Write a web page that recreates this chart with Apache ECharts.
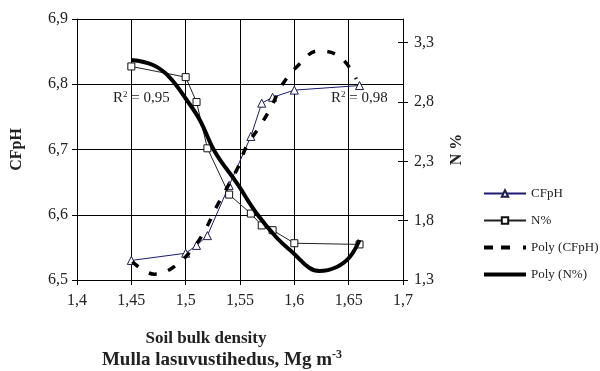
<!DOCTYPE html>
<html>
<head>
<meta charset="utf-8">
<script src="https://cdn.jsdelivr.net/npm/echarts@6/dist/echarts.min.js"></script>
<style>
  html, body { margin: 0; padding: 0; background: #fff; }
  #chart { width: 600px; height: 371px; }
</style>
</head>
<body>
<div id="chart"></div>
<script>
// measured points (x = soil bulk density)
const xValues = [1.45, 1.50, 1.51, 1.52, 1.54, 1.56, 1.57, 1.58, 1.60, 1.66];
const cfph = [6.53, 6.541, 6.553, 6.568, 6.645, 6.72, 6.771, 6.78, 6.791, 6.798];
const nPct = [3.10, 3.01, 2.80, 2.41, 2.02, 1.86, 1.76, 1.72, 1.61, 1.60];

// trend lines
const polyCfphX = [1.451, 1.471, 1.489, 1.507, 1.519, 1.528, 1.548, 1.556, 1.568, 1.579, 1.588, 1.603, 1.622, 1.642, 1.657];
const polyCfphY = [6.528, 6.509, 6.52, 6.549, 6.58, 6.611, 6.672, 6.705, 6.735, 6.766, 6.797, 6.828, 6.851, 6.842, 6.808];
const polyNX = [1.45, 1.47, 1.485, 1.501, 1.513, 1.527, 1.547, 1.565, 1.584, 1.599, 1.614, 1.623, 1.639, 1.651, 1.66];
const polyNY = [3.154, 3.112, 3.011, 2.817, 2.649, 2.379, 2.118, 1.865, 1.654, 1.528, 1.401, 1.376, 1.41, 1.494, 1.637];

const xTicks = [1.4, 1.45, 1.5, 1.55, 1.6, 1.65, 1.7];
const leftTicks = [6.5, 6.6, 6.7, 6.8, 6.9];
const rightTicks = [1.3, 1.8, 2.3, 2.8, 3.3];

const pair = (xs, ys) => xs.map((x, i) => [x, ys[i]]);
const comma = v => String(+(+v).toFixed(2)).replace('.', ',');

const serif = 'Liberation Serif';
const ink = '#222';

const chart = echarts.init(document.getElementById('chart'));

chart.setOption({
  animation: false,
  backgroundColor: '#fff',
  grid: { left: 77, right: 197, top: 19, bottom: 91 },
  legend: {
    orient: 'vertical',
    left: 478,
    top: 182,
    itemWidth: 42,
    itemHeight: 8,
    itemGap: 14,
    textStyle: { fontFamily: serif, fontSize: 13, color: ink },
    data: [
      { name: 'CFpH' },
      { name: 'N%' },
      { name: 'Poly (CFpH)', icon: 'path://M0,0h9v4h-9z M17,0h9v4h-9z M39,0h3v4h-3z' },
      { name: 'Poly (N%)', icon: 'path://M0,0h42v4h-42z' }
    ]
  },
  xAxis: {
    type: 'value',
    min: 1.4,
    max: 1.7,
    interval: 0.05,
    axisLine: { lineStyle: { color: '#000', width: 1 } },
    axisTick: { show: true, length: 5, lineStyle: { color: '#000' }, customValues: xTicks },
    axisLabel: { customValues: xTicks, formatter: comma, fontFamily: serif, fontSize: 16, color: ink, margin: 13 },
    splitLine: { show: true, lineStyle: { color: '#000', width: 1 } }
  },
  yAxis: [
    {
      type: 'value',
      min: 6.5,
      max: 6.9,
      interval: 0.1,
      name: 'CFpH',
      nameLocation: 'middle',
      nameGap: 52,
      nameTextStyle: { fontFamily: serif, fontSize: 16, fontWeight: 'bold', color: ink },
      axisLine: { show: true, lineStyle: { color: '#000' } },
      axisTick: { show: true, length: 5, lineStyle: { color: '#000' }, customValues: leftTicks },
      axisLabel: { customValues: leftTicks, formatter: comma, fontFamily: serif, fontSize: 16, color: ink, margin: 9 },
      splitLine: { show: true, lineStyle: { color: '#000', width: 1 } }
    },
    {
      type: 'value',
      min: 1.3,
      max: 3.5,
      position: 'right',
      name: 'N %',
      nameLocation: 'middle',
      nameGap: 46,
      nameTextStyle: { fontFamily: serif, fontSize: 16, fontWeight: 'bold', color: ink },
      axisLine: { show: true, lineStyle: { color: '#000' } },
      axisTick: { show: true, length: 5, lineStyle: { color: '#000' }, customValues: rightTicks },
      axisLabel: { customValues: rightTicks, formatter: comma, fontFamily: serif, fontSize: 16, color: ink, margin: 11 },
      splitLine: { show: false }
    },
    {
      // inner half of the crossing ticks on the right axis
      type: 'value',
      min: 1.3,
      max: 3.5,
      position: 'right',
      axisLine: { show: false },
      axisTick: { show: true, inside: true, length: 5, lineStyle: { color: '#000' }, customValues: rightTicks },
      axisLabel: { show: false },
      splitLine: { show: false }
    }
  ],
  series: [
    {
      name: 'CFpH',
      type: 'line',
      yAxisIndex: 0,
      data: pair(xValues, cfph),
      symbol: 'triangle',
      symbolSize: 8,
      lineStyle: { color: '#1c1c70', width: 1 },
      itemStyle: { color: '#fff', borderColor: '#1c1c50', borderWidth: 1 },
      z: 3
    },
    {
      name: 'N%',
      type: 'line',
      yAxisIndex: 1,
      data: pair(xValues, nPct),
      symbol: 'rect',
      symbolSize: 7,
      lineStyle: { color: '#222', width: 1 },
      itemStyle: { color: '#fff', borderColor: '#111', borderWidth: 1 },
      z: 3
    },
    {
      name: 'Poly (CFpH)',
      type: 'line',
      yAxisIndex: 0,
      data: pair(polyCfphX, polyCfphY),
      smooth: 0.4,
      showSymbol: false,
      symbol: 'none',
      lineStyle: { color: '#000', width: 3.5, type: [8, 12] },
      itemStyle: { color: '#000' },
      z: 4
    },
    {
      name: 'Poly (N%)',
      type: 'line',
      yAxisIndex: 1,
      data: pair(polyNX, polyNY),
      smooth: 0.4,
      showSymbol: false,
      symbol: 'none',
      lineStyle: { color: '#000', width: 4 },
      itemStyle: { color: '#000' },
      z: 4
    }
  ],
  graphic: [
    {
      type: 'text',
      left: 113,
      top: 90,
      style: {
        text: '{a|R}{s|2}{a| = 0,95}',
        rich: {
          a: { fontFamily: serif, fontSize: 15, fill: ink },
          s: { fontFamily: serif, fontSize: 9, fill: ink, verticalAlign: 'top', padding: [0, 0, 8, 0] }
        }
      }
    },
    {
      type: 'text',
      left: 331,
      top: 90,
      style: {
        text: '{a|R}{s|2}{a| = 0,98}',
        rich: {
          a: { fontFamily: serif, fontSize: 15, fill: ink },
          s: { fontFamily: serif, fontSize: 9, fill: ink, verticalAlign: 'top', padding: [0, 0, 8, 0] }
        }
      }
    },
    {
      type: 'text',
      x: 206,
      y: 330,
      style: {
        text: 'Soil bulk density',
        fontFamily: serif,
        fontSize: 17,
        fontWeight: 'bold',
        fill: ink,
        align: 'center'
      }
    },
    {
      type: 'text',
      x: 222,
      y: 349,
      style: {
        text: '{a|Mulla lasuvustihedus, Mg m}{s|-3}',
        align: 'center',
        rich: {
          a: { fontFamily: serif, fontSize: 19, fontWeight: 'bold', fill: ink },
          s: { fontFamily: serif, fontSize: 12, fontWeight: 'bold', fill: ink, padding: [0, 0, 10, 0] }
        }
      }
    }
  ]
});
</script>
</body>
</html>
